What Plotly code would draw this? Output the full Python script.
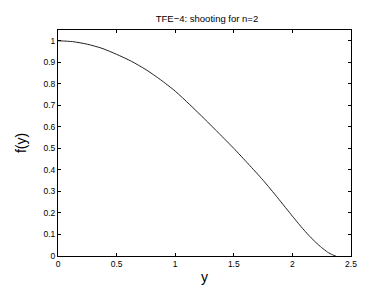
import plotly.graph_objects as go

y_vals = [0.0, 0.125, 0.25, 0.375, 0.5, 0.625, 0.75, 0.875, 1.0, 1.125, 1.25, 1.375, 1.5,
          1.625, 1.75, 1.875, 2.0, 2.05, 2.1, 2.15, 2.2, 2.25, 2.3, 2.34, 2.37]
f_vals = [1.0, 0.996, 0.984, 0.965, 0.937, 0.905, 0.866, 0.819, 0.766, 0.703, 0.637, 0.569, 0.500,
          0.427, 0.352, 0.270, 0.185, 0.152, 0.120, 0.090, 0.063, 0.039, 0.018, 0.006, 0.0]
x_ticks = [0, 0.5, 1, 1.5, 2, 2.5]
y_ticks = [0, 0.1, 0.2, 0.3, 0.4, 0.5, 0.6, 0.7, 0.8, 0.9, 1]

FONT = "Liberation Sans, Arial, sans-serif"

fig = go.Figure()
fig.add_trace(go.Scatter(x=y_vals, y=f_vals, mode="lines",
                         line=dict(color="#222222", width=1, shape="spline", smoothing=0.6),
                         showlegend=False, hoverinfo="skip"))

axis_common = dict(showgrid=False, zeroline=False, showline=True, linecolor="black",
                   linewidth=1, mirror="ticks", ticks="inside", ticklen=3, tickcolor="black",
                   tickfont=dict(family=FONT, size=8.5, color="black"))

fig.update_layout(
    width=379, height=286,
    margin=dict(l=49.5, r=35.5, t=21.7, b=32.7),
    paper_bgcolor="white", plot_bgcolor="white",
    title=dict(text="TFE\u22124: shooting for n=2", x=0.525, xanchor="center", y=0.963, yanchor="middle",
               font=dict(family=FONT, size=9.5, color="black")),
    xaxis=dict(range=[0, 2.5], tickvals=x_ticks, ticktext=[str(t) for t in x_ticks],
               title=dict(text="y", standoff=3, font=dict(family=FONT, size=14, color="black")),
               **axis_common),
    yaxis=dict(range=[0, 1.05], tickvals=y_ticks, ticktext=[str(t) for t in y_ticks],
               title=dict(text="f(y)", standoff=13, font=dict(family=FONT, size=14, color="black")),
               **axis_common),
)
fig.write_html("out.html")
